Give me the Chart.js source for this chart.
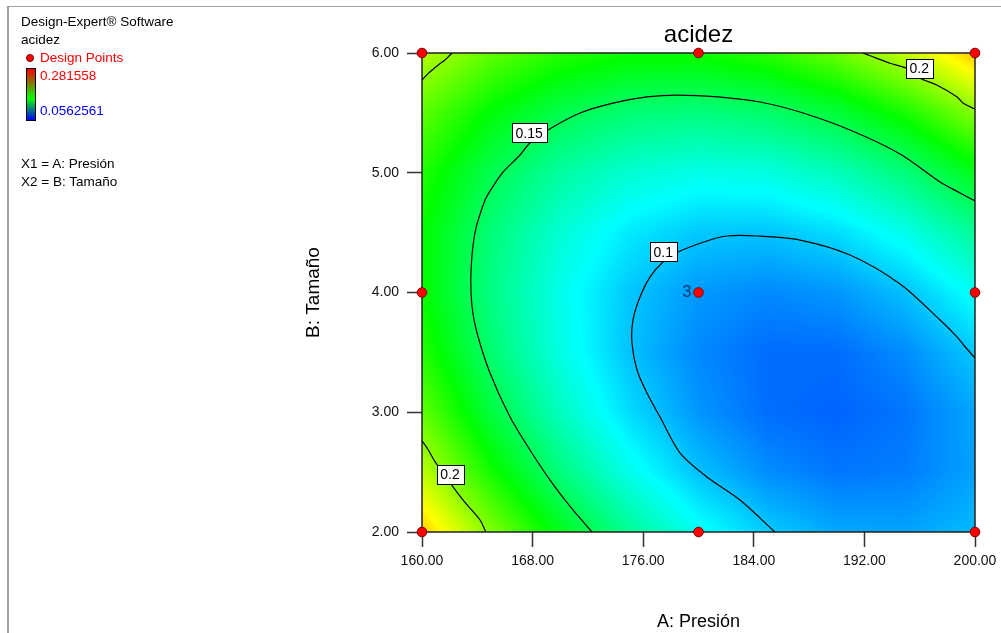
<!DOCTYPE html>
<html>
<head>
<meta charset="utf-8">
<title>acidez</title>
<script src="https://cdn.jsdelivr.net/npm/chart.js@4.4.1/dist/chart.umd.min.js"></script>
<style>
  html, body { margin: 0; padding: 0; background: #fff; }
  #wrap { position: relative; width: 1001px; height: 633px; overflow: hidden;
          font-family: "Liberation Sans", Arial, sans-serif; }
  #frame { position: absolute; left: 7px; top: 6px; width: 1000px; height: 640px;
           border-left: 2px solid #a0a0a0; border-top: 1px solid #a0a0a0; }
  canvas { position: absolute; left: 0; top: 0; }
  .note { position: absolute; font-size: 13.5px; line-height: 16px; color: #000; white-space: nowrap; }
  #dot { position: absolute; left: 26px; top: 54px; width: 6px; height: 6px; border-radius: 50%;
         background: #f00; border: 1px solid #700; }
  #bar { position: absolute; left: 26px; top: 68px; width: 8px; height: 51px; border: 1px solid #000;
         background: linear-gradient(to bottom, #ff0000, #00ff00 58%, #0000ff); }
</style>
</head>
<body>
<div id="wrap">
  <div id="frame"></div>
  <canvas id="chart" width="1001" height="633"></canvas>
  <div class="note" style="left:21px; top:14px;">Design-Expert® Software</div>
  <div class="note" style="left:21px; top:32px;">acidez</div>
  <div id="dot"></div>
  <div class="note" style="left:40px; top:50px; color:#f00;">Design Points</div>
  <div id="bar"></div>
  <div class="note" id="maxLabel" style="left:40px; top:68px; color:#f00;"></div>
  <div class="note" id="minLabel" style="left:40px; top:103px; color:#00f;"></div>
  <div class="note" style="left:21px; top:156px;">X1 = A: Presión</div>
  <div class="note" style="left:21px; top:174px;">X2 = B: Tamaño</div>
</div>
<script>
// colour range of the response
const acidezMax = 0.281558;
const acidezMin = 0.0562561;

// axis ticks
const presionTicks = [160, 168, 176, 184, 192, 200];
const tamanoTicks = [2, 3, 4, 5, 6];

// response surface, rows follow gridTamano, columns gridPresion
const gridPresion = [160, 165, 170, 175, 180, 185, 190, 195, 200];
const gridTamano = [2, 2.5, 3, 3.5, 4, 4.5, 5, 5.5, 6];
const acidezGrid = [
  [0.2375, 0.1972, 0.1634, 0.1361, 0.1154, 0.1011, 0.0935, 0.0923, 0.0977],
  [0.2106, 0.1729, 0.1417, 0.1171, 0.0990, 0.0875, 0.0825, 0.0840, 0.0920],
  [0.1903, 0.1553, 0.1268, 0.1048, 0.0894, 0.0805, 0.0781, 0.0823, 0.0929],
  [0.1768, 0.1444, 0.1185, 0.0992, 0.0864, 0.0802, 0.0804, 0.0872, 0.1006],
  [0.1699, 0.1401, 0.1169, 0.1003, 0.0901, 0.0865, 0.0894, 0.0989, 0.1149],
  [0.1696, 0.1426, 0.1220, 0.1080, 0.1005, 0.0995, 0.1051, 0.1172, 0.1358],
  [0.1761, 0.1517, 0.1337, 0.1224, 0.1175, 0.1192, 0.1274, 0.1422, 0.1635],
  [0.1892, 0.1674, 0.1522, 0.1434, 0.1412, 0.1456, 0.1564, 0.1738, 0.1978],
  [0.2090, 0.1899, 0.1773, 0.1712, 0.1716, 0.1786, 0.1921, 0.2122, 0.2388]
];

// contour lines [presion, tamano]
const contour020TopLeft = [[160.00, 5.775], [160.46, 5.830], [161.18, 5.900], [161.66, 5.942], [162.17, 6.000]];
const contour020TopRight = [[191.90, 6.000], [192.41, 5.977], [193.85, 5.914], [195.06, 5.872], [196.02, 5.789],
  [197.23, 5.733], [198.68, 5.635], [199.15, 5.580], [200.00, 5.532]];
const contour020BottomLeft = [[160.00, 2.762], [160.46, 2.685], [160.94, 2.587], [162.15, 2.392], [162.87, 2.281],
  [163.59, 2.184], [164.20, 2.100], [164.61, 2.003]];
const contour015 = [[200.00, 4.764], [198.92, 4.831], [197.47, 4.923], [194.58, 5.157], [190.96, 5.357],
  [187.34, 5.507], [184.45, 5.591], [181.41, 5.633], [178.44, 5.649], [176.27, 5.633], [173.82, 5.582],
  [171.43, 5.499], [169.11, 5.357], [167.81, 5.248], [167.09, 5.148], [165.86, 5.006], [165.06, 4.873],
  [164.56, 4.772], [163.83, 4.497], [163.54, 4.163], [163.62, 3.879], [163.98, 3.662], [164.92, 3.328],
  [166.37, 2.960], [167.81, 2.685], [169.26, 2.434], [170.92, 2.184], [172.30, 2.000]];
const contour010 = [[200.00, 3.453], [199.28, 3.547], [198.68, 3.631], [197.47, 3.770], [194.58, 4.071],
  [190.96, 4.313], [187.34, 4.438], [184.23, 4.472], [182.06, 4.472], [180.61, 4.430], [178.52, 4.338],
  [177.43, 4.255], [176.49, 4.129], [175.77, 3.962], [175.26, 3.770], [175.19, 3.578], [175.55, 3.353],
  [176.27, 3.161], [177.22, 2.960], [178.66, 2.660], [180.61, 2.459], [183.00, 2.267], [185.53, 2.000]];

// contour level labels
const labelText = ['0.2', '0.15', '0.1', '0.2'];
const labelPresion = [195.97, 167.75, 177.45, 162.03];
const labelTamano = [5.872, 5.332, 4.340, 2.483];

// design points
const designPresion = [160, 160, 160, 180, 180, 180, 200, 200, 200];
const designTamano = [2, 4, 6, 2, 4, 6, 2, 4, 6];
const designRuns = [1, 1, 1, 1, 3, 1, 1, 1, 1];

document.getElementById('maxLabel').textContent = acidezMax.toString();
document.getElementById('minLabel').textContent = acidezMin.toString();

const FONT = "'Liberation Sans', Arial, sans-serif";
Chart.defaults.font.family = FONT;

const stops = [[0, 0, 255], [0, 255, 255], [0, 255, 0], [255, 255, 0], [255, 0, 0]];
const colorFor = (v) => {
  let t = (v - acidezMin) / (acidezMax - acidezMin);
  t = Math.min(1, Math.max(0, t)) * (stops.length - 1);
  const k = Math.min(stops.length - 2, Math.floor(t));
  const f = t - k;
  const a = stops[k], b = stops[k + 1];
  return [a[0] + (b[0] - a[0]) * f, a[1] + (b[1] - a[1]) * f, a[2] + (b[2] - a[2]) * f];
};

const locate = (arr, v) => {
  let k = 0;
  while (k < arr.length - 2 && v > arr[k + 1]) k++;
  const f = (v - arr[k]) / (arr[k + 1] - arr[k]);
  return [k, Math.min(1, Math.max(0, f))];
};

const sampleGrid = (a, b) => {
  const [i, fx] = locate(gridPresion, a);
  const [j, fy] = locate(gridTamano, b);
  const v00 = acidezGrid[j][i], v10 = acidezGrid[j][i + 1];
  const v01 = acidezGrid[j + 1][i], v11 = acidezGrid[j + 1][i + 1];
  return (v00 * (1 - fx) + v10 * fx) * (1 - fy) + (v01 * (1 - fx) + v11 * fx) * fy;
};

const heatmapPlugin = {
  id: 'heatmap',
  beforeDatasetsDraw(chart) {
    const { ctx, chartArea: area, scales: { x, y } } = chart;
    const left = Math.round(area.left), top = Math.round(area.top);
    const w = Math.round(area.right) - left, h = Math.round(area.bottom) - top;
    const off = document.createElement('canvas');
    off.width = w; off.height = h;
    const octx = off.getContext('2d');
    const img = octx.createImageData(w, h);
    for (let j = 0; j < h; j++) {
      const b = y.getValueForPixel(top + j + 0.5);
      for (let i = 0; i < w; i++) {
        const a = x.getValueForPixel(left + i + 0.5);
        const c = colorFor(sampleGrid(a, b));
        const p = (j * w + i) * 4;
        img.data[p] = c[0]; img.data[p + 1] = c[1]; img.data[p + 2] = c[2]; img.data[p + 3] = 255;
      }
    }
    octx.putImageData(img, 0, 0);
    ctx.save();
    ctx.drawImage(off, left, top);
    ctx.strokeStyle = '#222';
    ctx.lineWidth = 1.5;
    ctx.strokeRect(left, top, w, h);
    ctx.restore();
  },
  afterDatasetsDraw(chart) {
    const { ctx, scales: { x, y } } = chart;
    ctx.save();
    // contour level boxes
    ctx.font = '14px ' + FONT;
    ctx.textAlign = 'center';
    ctx.textBaseline = 'middle';
    labelText.forEach((txt, k) => {
      const px = x.getPixelForValue(labelPresion[k]);
      const py = y.getPixelForValue(labelTamano[k]);
      const bw = Math.round(ctx.measureText(txt).width) + 8, bh = 19;
      const bx = Math.round(px - bw / 2) + 0.5, by = Math.round(py - bh / 2) + 0.5;
      ctx.fillStyle = '#fff';
      ctx.fillRect(bx, by, bw, bh);
      ctx.strokeStyle = '#000';
      ctx.lineWidth = 1;
      ctx.strokeRect(bx, by, bw, bh);
      ctx.fillStyle = '#000';
      ctx.fillText(txt, px, py + 1);
    });
    // replicate counts
    ctx.font = '16px ' + FONT;
    ctx.textAlign = 'right';
    ctx.fillStyle = '#17366e';
    designRuns.forEach((n, k) => {
      if (n < 2) return;
      const px = x.getPixelForValue(designPresion[k]);
      const py = y.getPixelForValue(designTamano[k]);
      ctx.fillText(String(n), px - 7, py);
    });
    ctx.restore();
  }
};

const toXY = (arr) => arr.map(([a, b]) => ({ x: a, y: b }));
const contourSet = (arr) => ({
  type: 'line',
  data: toXY(arr),
  showLine: true,
  borderColor: '#000',
  borderWidth: 1.2,
  pointRadius: 0,
  tension: 0.3,
  fill: false
});

new Chart(document.getElementById('chart'), {
  type: 'scatter',
  data: {
    datasets: [
      contourSet(contour020TopLeft),
      contourSet(contour020TopRight),
      contourSet(contour020BottomLeft),
      contourSet(contour015),
      contourSet(contour010),
      {
        label: 'Design Points',
        data: designPresion.map((a, k) => ({ x: a, y: designTamano[k] })),
        pointRadius: 4.8,
        pointBackgroundColor: '#ff0000',
        pointBorderColor: '#7a0000',
        pointBorderWidth: 1,
        clip: false
      }
    ]
  },
  options: {
    responsive: false,
    animation: false,
    events: [],
    layout: { padding: { left: 300, right: 26, top: 10, bottom: 0 } },
    plugins: {
      legend: { display: false },
      tooltip: { enabled: false },
      title: {
        display: true,
        text: 'acidez',
        fullSize: false,
        color: '#000',
        font: { size: 24, weight: 'normal' },
        padding: { top: 10.6, bottom: 3.6 }
      }
    },
    scales: {
      x: {
        type: 'linear',
        min: 160,
        max: 200,
        afterBuildTicks: (axis) => { axis.ticks = presionTicks.map((v) => ({ value: v })); },
        afterFit: (axis) => {
          axis.height = 101;
          // the right padding of the layout already leaves room for "200.00"
          axis.paddingLeft = 0;
          axis.paddingRight = 0;
        },
        border: { display: false },
        grid: { drawOnChartArea: false, tickLength: 15, color: '#333', tickWidth: 1.5 },
        ticks: {
          color: '#111',
          font: { size: 14 },
          padding: 6,
          maxRotation: 0,
          autoSkip: false,
          callback: (v) => Number(v).toFixed(2)
        },
        title: { display: true, text: 'A: Presión', color: '#000', font: { size: 18 }, padding: { top: 0, bottom: 0 } }
      },
      y: {
        type: 'linear',
        min: 2,
        max: 6,
        afterBuildTicks: (axis) => { axis.ticks = tamanoTicks.map((v) => ({ value: v })); },
        afterFit: (axis) => { axis.width = 122; },
        border: { display: false },
        grid: { drawOnChartArea: false, tickLength: 15, color: '#333', tickWidth: 1.5 },
        ticks: {
          color: '#111',
          font: { size: 14 },
          padding: 8,
          autoSkip: false,
          callback: (v) => Number(v).toFixed(2)
        },
        title: { display: true, text: 'B: Tamaño', color: '#000', font: { size: 19 }, padding: { top: 2, bottom: 0 } }
      }
    }
  },
  plugins: [heatmapPlugin]
});
</script>
</body>
</html>
